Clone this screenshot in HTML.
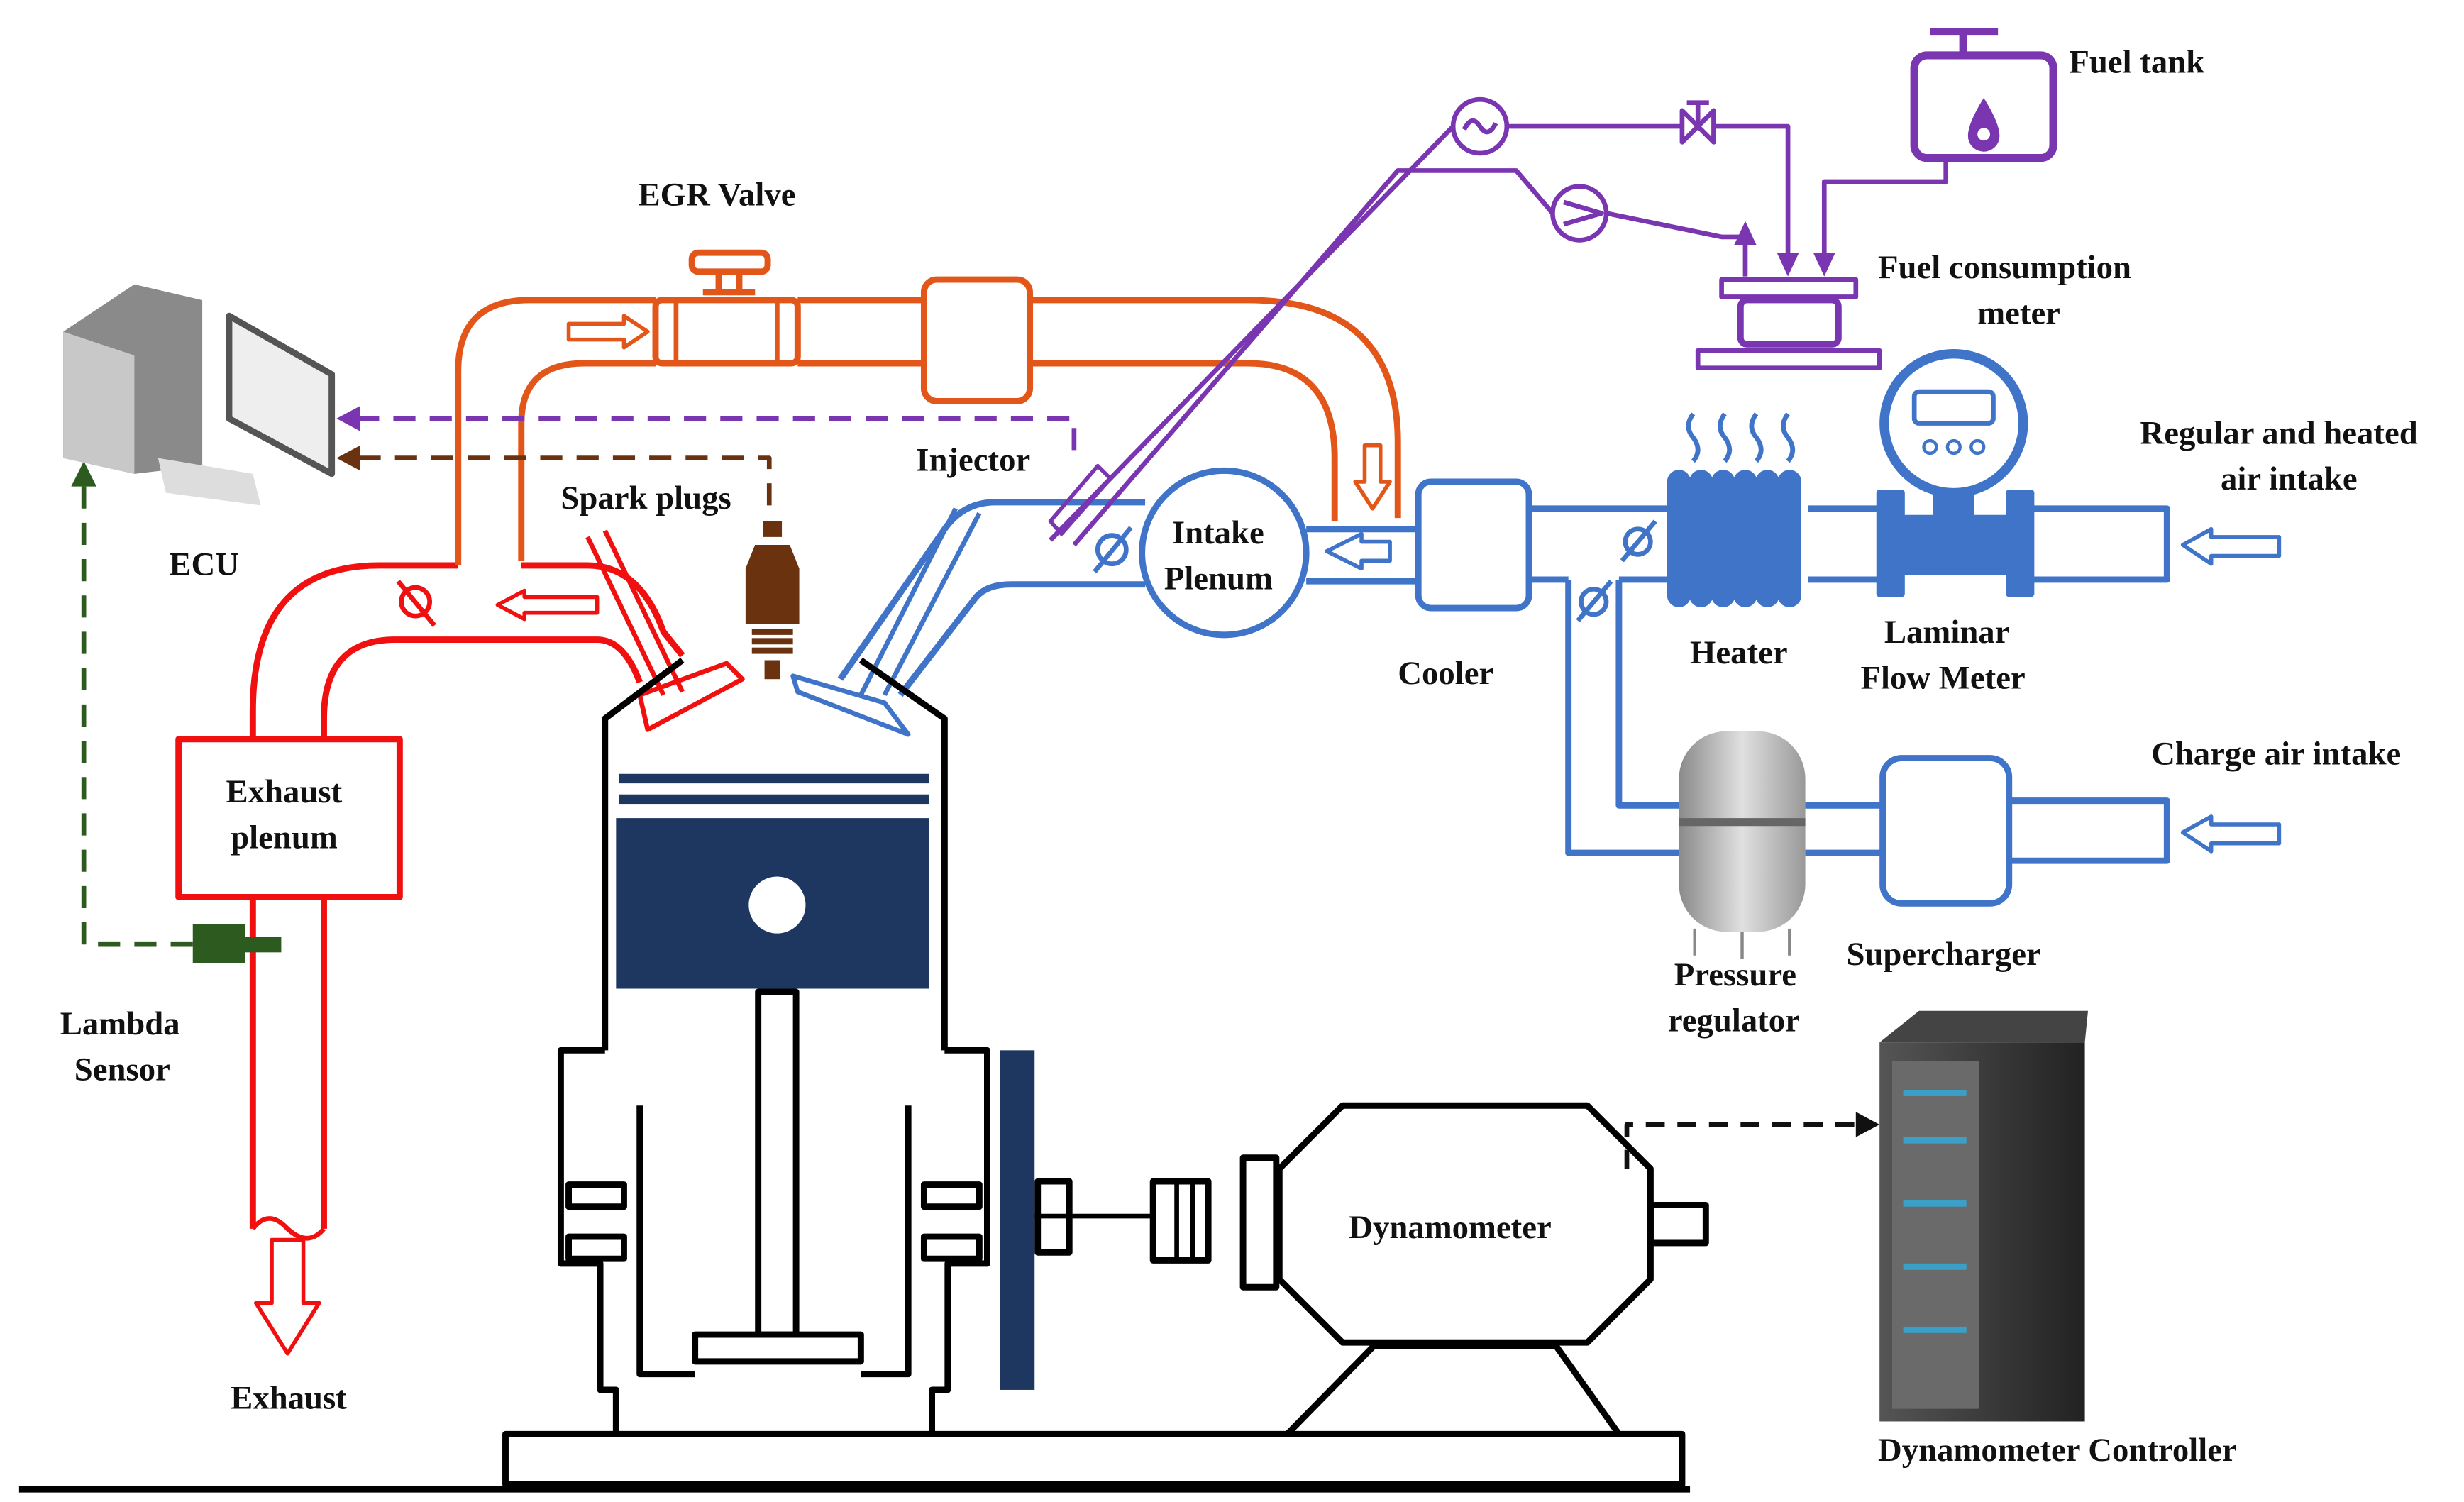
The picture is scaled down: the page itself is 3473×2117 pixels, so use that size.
<!DOCTYPE html>
<html><head><meta charset="utf-8"><style>
html,body{margin:0;padding:0;background:#fff}
svg{display:block}
text{font-family:"Liberation Serif",serif;font-weight:bold;font-size:21px;fill:#111}
</style></head><body>
<svg width="3473" height="2117" viewBox="0 0 1560 951" xmlns="http://www.w3.org/2000/svg">
<defs>
<linearGradient id="tank" x1="0" x2="1"><stop offset="0" stop-color="#8a8a8a"/><stop offset="0.5" stop-color="#e0e0e0"/><stop offset="1" stop-color="#999"/></linearGradient>
<linearGradient id="rack" x1="0" x2="1"><stop offset="0" stop-color="#555"/><stop offset="1" stop-color="#222"/></linearGradient>
</defs>
<g fill="none" stroke-width="4" stroke-linejoin="round">
<g stroke="#f01010">
<path d="M160,468 L160,450 Q160,358 240,358 L290,358"/>
<path d="M330,358 L372,358 Q405,358 420,400 L432,415"/>
<path d="M205,468 L205,455 Q205,405 250,405 L378,405 Q395,405 405,432"/>
<rect x="113" y="468" width="140" height="100" stroke-width="4"/>
<path d="M160,568 L160,778 M205,568 L205,778"/>
<path d="M160,778 Q170,765 182,778 Q195,790 205,778" stroke-width="3"/>
<path d="M405,440 L460,420 L470,430 L410,462 Z" stroke-width="3"/>
<path d="M372,340 L420,440 M383,336 L432,438" stroke-width="3"/>
<path d="M172,785 L192,785 L192,825 L202,825 L182,857 L162,825 L172,825 Z" stroke-width="2.5"/>
<path d="M378,378 L378,388 L332,388 L332,392 L315,383 L332,374 L332,378 Z" stroke-width="2.5"/>
<circle cx="263" cy="381" r="9" stroke-width="3"/><path d="M252,368 L275,396" stroke-width="3"/>
</g>
<g stroke="#e2561a">
<path d="M290,358 L290,235 Q290,190 335,190 L415,190 M505,190 L585,190 M652,190 L790,190 Q885,190 885,280 L885,328"/>
<path d="M330,355 L330,268 Q330,230 370,230 L415,230 M505,230 L585,230 M652,230 L790,230 Q845,230 845,290 L845,330"/>
<rect x="415" y="190" width="90" height="40" rx="4"/>
<path d="M428,190 L428,230 M492,190 L492,230" stroke-width="3"/>
<rect x="438" y="160" width="48" height="12" rx="4"/><path d="M455,172 L455,185 M468,172 L468,185 M445,185 L478,185"/>
<rect x="585" y="177" width="67" height="77" rx="8"/>
<path d="M360,205 L395,205 L395,200 L410,210 L395,220 L395,215 L360,215 Z" stroke-width="2.5"/>
<path d="M864,282 L874,282 L874,305 L880,305 L869,322 L858,305 L864,305 Z" stroke-width="2.5"/>
</g>
<g stroke="#3f74c8">
<path d="M532,430 L598,335 Q610,318 630,318 L725,318"/>
<path d="M570,440 L618,378 Q625,370 640,370 L725,370"/>
<path d="M502,428 L560,445 L575,465 L505,438 Z" stroke-width="3"/>
<path d="M545,440 L605,322 M560,440 L620,325" stroke-width="3"/>
<circle cx="775" cy="350" r="52"/>
<path d="M827,335 L898,335 M827,368 L898,368"/>
<rect x="898" y="305" width="70" height="80" rx="8"/>
<path d="M968,322 L1058,322 M968,367 L993,367 M1025,367 L1058,367"/>
<path d="M993,367 L993,540 L1065,540 M1025,367 L1025,510 L1065,510"/>
<path d="M1143,510 L1192,510 M1143,540 L1192,540"/>
<rect x="1192" y="480" width="80" height="92" rx="12"/>
<path d="M1272,507 L1372,507 L1372,545 L1272,545"/>
<path d="M1145,322 L1190,322 M1145,367 L1190,367"/>
<path d="M1285,322 L1372,322 L1372,367 L1285,367"/>
<path d="M1382,345 L1400,335 L1400,340 L1443,340 L1443,352 L1400,352 L1400,357 Z" stroke-width="2.5"/>
<path d="M1382,527 L1400,517 L1400,522 L1443,522 L1443,534 L1400,534 L1400,539 Z" stroke-width="2.5"/>
<path d="M880,343 L862,343 L862,338 L840,349 L862,360 L862,355 L880,355 Z" stroke-width="2.5"/>
<circle cx="704" cy="348" r="9" stroke-width="3"/><path d="M693,362 L716,334" stroke-width="3"/>
<circle cx="1037" cy="343" r="8" stroke-width="3"/><path d="M1027,355 L1048,330" stroke-width="3"/>
<circle cx="1009" cy="381" r="8" stroke-width="3"/><path d="M999,393 L1020,368" stroke-width="3"/>
</g>
<g stroke="#3f74c8" stroke-width="5" fill="#3f74c8">
<rect x="1058" y="300" width="10" height="82" rx="5"/><rect x="1072" y="300" width="10" height="82" rx="5"/>
<rect x="1086" y="300" width="10" height="82" rx="5"/><rect x="1100" y="300" width="10" height="82" rx="5"/>
<rect x="1114" y="300" width="10" height="82" rx="5"/><rect x="1128" y="300" width="10" height="82" rx="5"/>
</g>
<g stroke="#3f74c8" stroke-width="3">
<path d="M1072,262 q-6,8 0,15 q6,8 0,15 M1092,262 q-6,8 0,15 q6,8 0,15 M1112,262 q-6,8 0,15 q6,8 0,15 M1132,262 q-6,8 0,15 q6,8 0,15"/>
</g>
<g fill="#3f74c8" stroke="#3f74c8">
<rect x="1190" y="312" width="14" height="64"/><rect x="1272" y="312" width="14" height="64"/>
<rect x="1200" y="328" width="75" height="34"/><rect x="1226" y="305" width="22" height="25"/>
</g>
<circle cx="1237" cy="268" r="44" fill="#fff" stroke="#3f74c8" stroke-width="6"/>
<rect x="1212" y="248" width="50" height="20" rx="3" stroke="#3f74c8" stroke-width="3"/>
<g stroke="#3f74c8" stroke-width="2"><circle cx="1222" cy="283" r="4"/><circle cx="1237" cy="283" r="4"/><circle cx="1252" cy="283" r="4"/></g>
<g stroke="#7a35b0" stroke-width="3">
<rect x="1212" y="35" width="88" height="65" rx="8" stroke-width="5"/>
<path d="M1222,20 L1265,20 M1243,20 L1243,35" stroke-width="5"/>
<path d="M1232,100 L1232,115 L1155,115 L1155,172"/>
<path d="M665,342 L920,80 M954,80 L1065,80 M1085,80 L1132,80 L1132,172"/>
<path d="M680,345 L885,108 L960,108 L983,135 M1017,135 L1090,150 L1105,150 M1105,175 L1105,148"/>
<circle cx="937" cy="80" r="17"/><path d="M927,82 q5,-10 10,-2 q5,8 10,-2"/>
<circle cx="1000" cy="135" r="17"/><path d="M990,128 L1014,135 L990,142"/>
<path d="M1065,70 L1085,90 L1085,70 L1065,90 Z M1075,80 L1075,65 M1068,65 L1082,65"/>
<path d="M1090,177 L1175,177 L1175,188 L1090,188 Z"/>
<rect x="1102" y="190" width="62" height="28" rx="4" stroke-width="4"/>
<path d="M1075,222 L1190,222 L1190,233 L1075,233 Z"/>
<path d="M665,330 L695,295 L703,303 L672,338 Z" stroke-width="2.5"/>
</g>
<g fill="#7a35b0">
<path d="M1125,160 L1139,160 L1132,175 Z M1148,160 L1162,160 L1155,175 Z M1098,155 L1112,155 L1105,140 Z"/>
<path d="M1256,62 Q1266,78 1266,86 A10,10 0 0 1 1246,86 Q1246,78 1256,62 Z"/>
</g>
<circle cx="1256" cy="85" r="4" fill="#fff"/>
<path d="M680,285 L680,265 L228,265" stroke="#7a35b0" stroke-width="3" stroke-dasharray="14,9"/>
<path d="M228,257 L213,265 L228,273 Z" fill="#7a35b0" stroke="none"/>
<path d="M487,320 L487,290 L228,290" stroke="#6b3210" stroke-width="3" stroke-dasharray="14,9"/>
<path d="M228,282 L213,290 L228,298 Z" fill="#6b3210" stroke="none"/>
<path d="M122,598 L53,598 L53,308" stroke="#2d5a1e" stroke-width="3" stroke-dasharray="14,9"/>
<path d="M45,308 L53,292 L61,308 Z" fill="#2d5a1e" stroke="none"/>
<rect x="122" y="585" width="33" height="25" fill="#2d5a1e" stroke="none"/>
<rect x="155" y="593" width="23" height="10" fill="#2d5a1e" stroke="none"/>
<path d="M1030,740 L1030,712 L1175,712" stroke="#111" stroke-width="3" stroke-dasharray="12,8"/>
<path d="M1175,704 L1190,712 L1175,720 Z" fill="#111" stroke="none"/>
<g fill="#6b3210" stroke="none">
<rect x="483" y="330" width="12" height="10"/><path d="M478,345 L500,345 L506,360 L506,395 L472,395 L472,360 Z"/>
<rect x="476" y="398" width="26" height="4"/><rect x="476" y="404" width="26" height="4"/><rect x="476" y="410" width="26" height="4"/>
<rect x="484" y="418" width="10" height="12"/>
</g>
<g stroke="#000" stroke-width="4">
<path d="M383,665 L383,455 L432,418 M545,418 L598,455 L598,665"/>
<path d="M383,665 L355,665 L355,800 L380,800 L380,880 L390,880 L390,908 M598,665 L625,665 L625,800 L600,800 L600,880 L590,880 L590,908"/>
<path d="M405,700 L405,870 L440,870 M545,870 L575,870 L575,700"/>
<rect x="360" y="750" width="35" height="14"/><rect x="360" y="783" width="35" height="14"/>
<rect x="585" y="750" width="35" height="14"/><rect x="585" y="783" width="35" height="14"/>
<rect x="440" y="845" width="105" height="17"/>
<rect x="480" y="628" width="24" height="217"/>
<rect x="320" y="908" width="745" height="32"/>
<path d="M12,943 L1070,943"/>
<path d="M655,770 L730,770" stroke-width="3"/>
<rect x="657" y="748" width="20" height="45"/><rect x="730" y="748" width="35" height="50"/>
<path d="M745,748 L745,798 M755,748 L755,798" stroke-width="3"/>
<rect x="787" y="733" width="21" height="82"/>
<path d="M810,740 L850,700 L1005,700 L1045,740 L1045,810 L1005,850 L850,850 L810,810 Z"/>
<path d="M870,852 L985,852 L1025,908 M870,852 L815,908"/>
<rect x="1045" y="763" width="35" height="24"/>
</g>
<rect x="392" y="490" width="196" height="6" fill="#1e3760"/>
<rect x="392" y="503" width="196" height="6" fill="#1e3760"/>
<rect x="390" y="518" width="198" height="108" fill="#1e3760"/>
<circle cx="492" cy="573" r="18" fill="#fff"/>
<rect x="633" y="665" width="22" height="215" fill="#1e3760"/>
<rect x="1063" y="463" width="80" height="127" rx="30" fill="url(#tank)"/>
<rect x="1063" y="518" width="80" height="5" fill="#666"/>
<path d="M1073,588 L1073,605 M1103,590 L1103,607 M1133,588 L1133,605" stroke="#888" stroke-width="2"/>
<rect x="1190" y="660" width="130" height="240" fill="url(#rack)"/>
<path d="M1190,660 L1215,640 L1322,640 L1320,660 Z" fill="#444"/>
<rect x="1198" y="672" width="55" height="220" fill="#6a6a6a"/>
<g fill="#3aa0c8"><rect x="1205" y="690" width="40" height="4"/><rect x="1205" y="720" width="40" height="4"/><rect x="1205" y="760" width="40" height="4"/><rect x="1205" y="800" width="40" height="4"/><rect x="1205" y="840" width="40" height="4"/></g>
<path d="M40,210 L85,180 L128,190 L128,295 L85,300 L40,290 Z" fill="#8a8a8a"/>
<path d="M40,210 L85,225 L85,300 L40,290 Z" fill="#c8c8c8"/>
<path d="M145,200 L210,237 L210,300 L145,265 Z" fill="#eee" stroke="#555" stroke-width="4"/>
<path d="M100,290 L160,300 L165,320 L105,312 Z" fill="#ddd"/>
</g>
<text x="404" y="130">EGR Valve</text>
<text x="1310" y="46">Fuel tank</text>
<text x="1189" y="176">Fuel consumption</text>
<text x="1252" y="205">meter</text>
<text x="1355" y="281">Regular and heated</text>
<text x="1406" y="310">air intake</text>
<text x="580" y="298">Injector</text>
<text x="355" y="322">Spark plugs</text>
<text x="107" y="364">ECU</text>
<text x="742" y="344">Intake</text>
<text x="737" y="373">Plenum</text>
<text x="885" y="433">Cooler</text>
<text x="1070" y="420">Heater</text>
<text x="1193" y="407">Laminar</text>
<text x="1178" y="436">Flow Meter</text>
<text x="1362" y="484">Charge air intake</text>
<text x="143" y="508">Exhaust</text>
<text x="146" y="537">plenum</text>
<text x="1060" y="624">Pressure</text>
<text x="1056" y="653">regulator</text>
<text x="1169" y="611">Supercharger</text>
<text x="38" y="655">Lambda</text>
<text x="47" y="684">Sensor</text>
<text x="854" y="784">Dynamometer</text>
<text x="146" y="892">Exhaust</text>
<text x="1189" y="925">Dynamometer Controller</text>
</svg>
</body></html>
